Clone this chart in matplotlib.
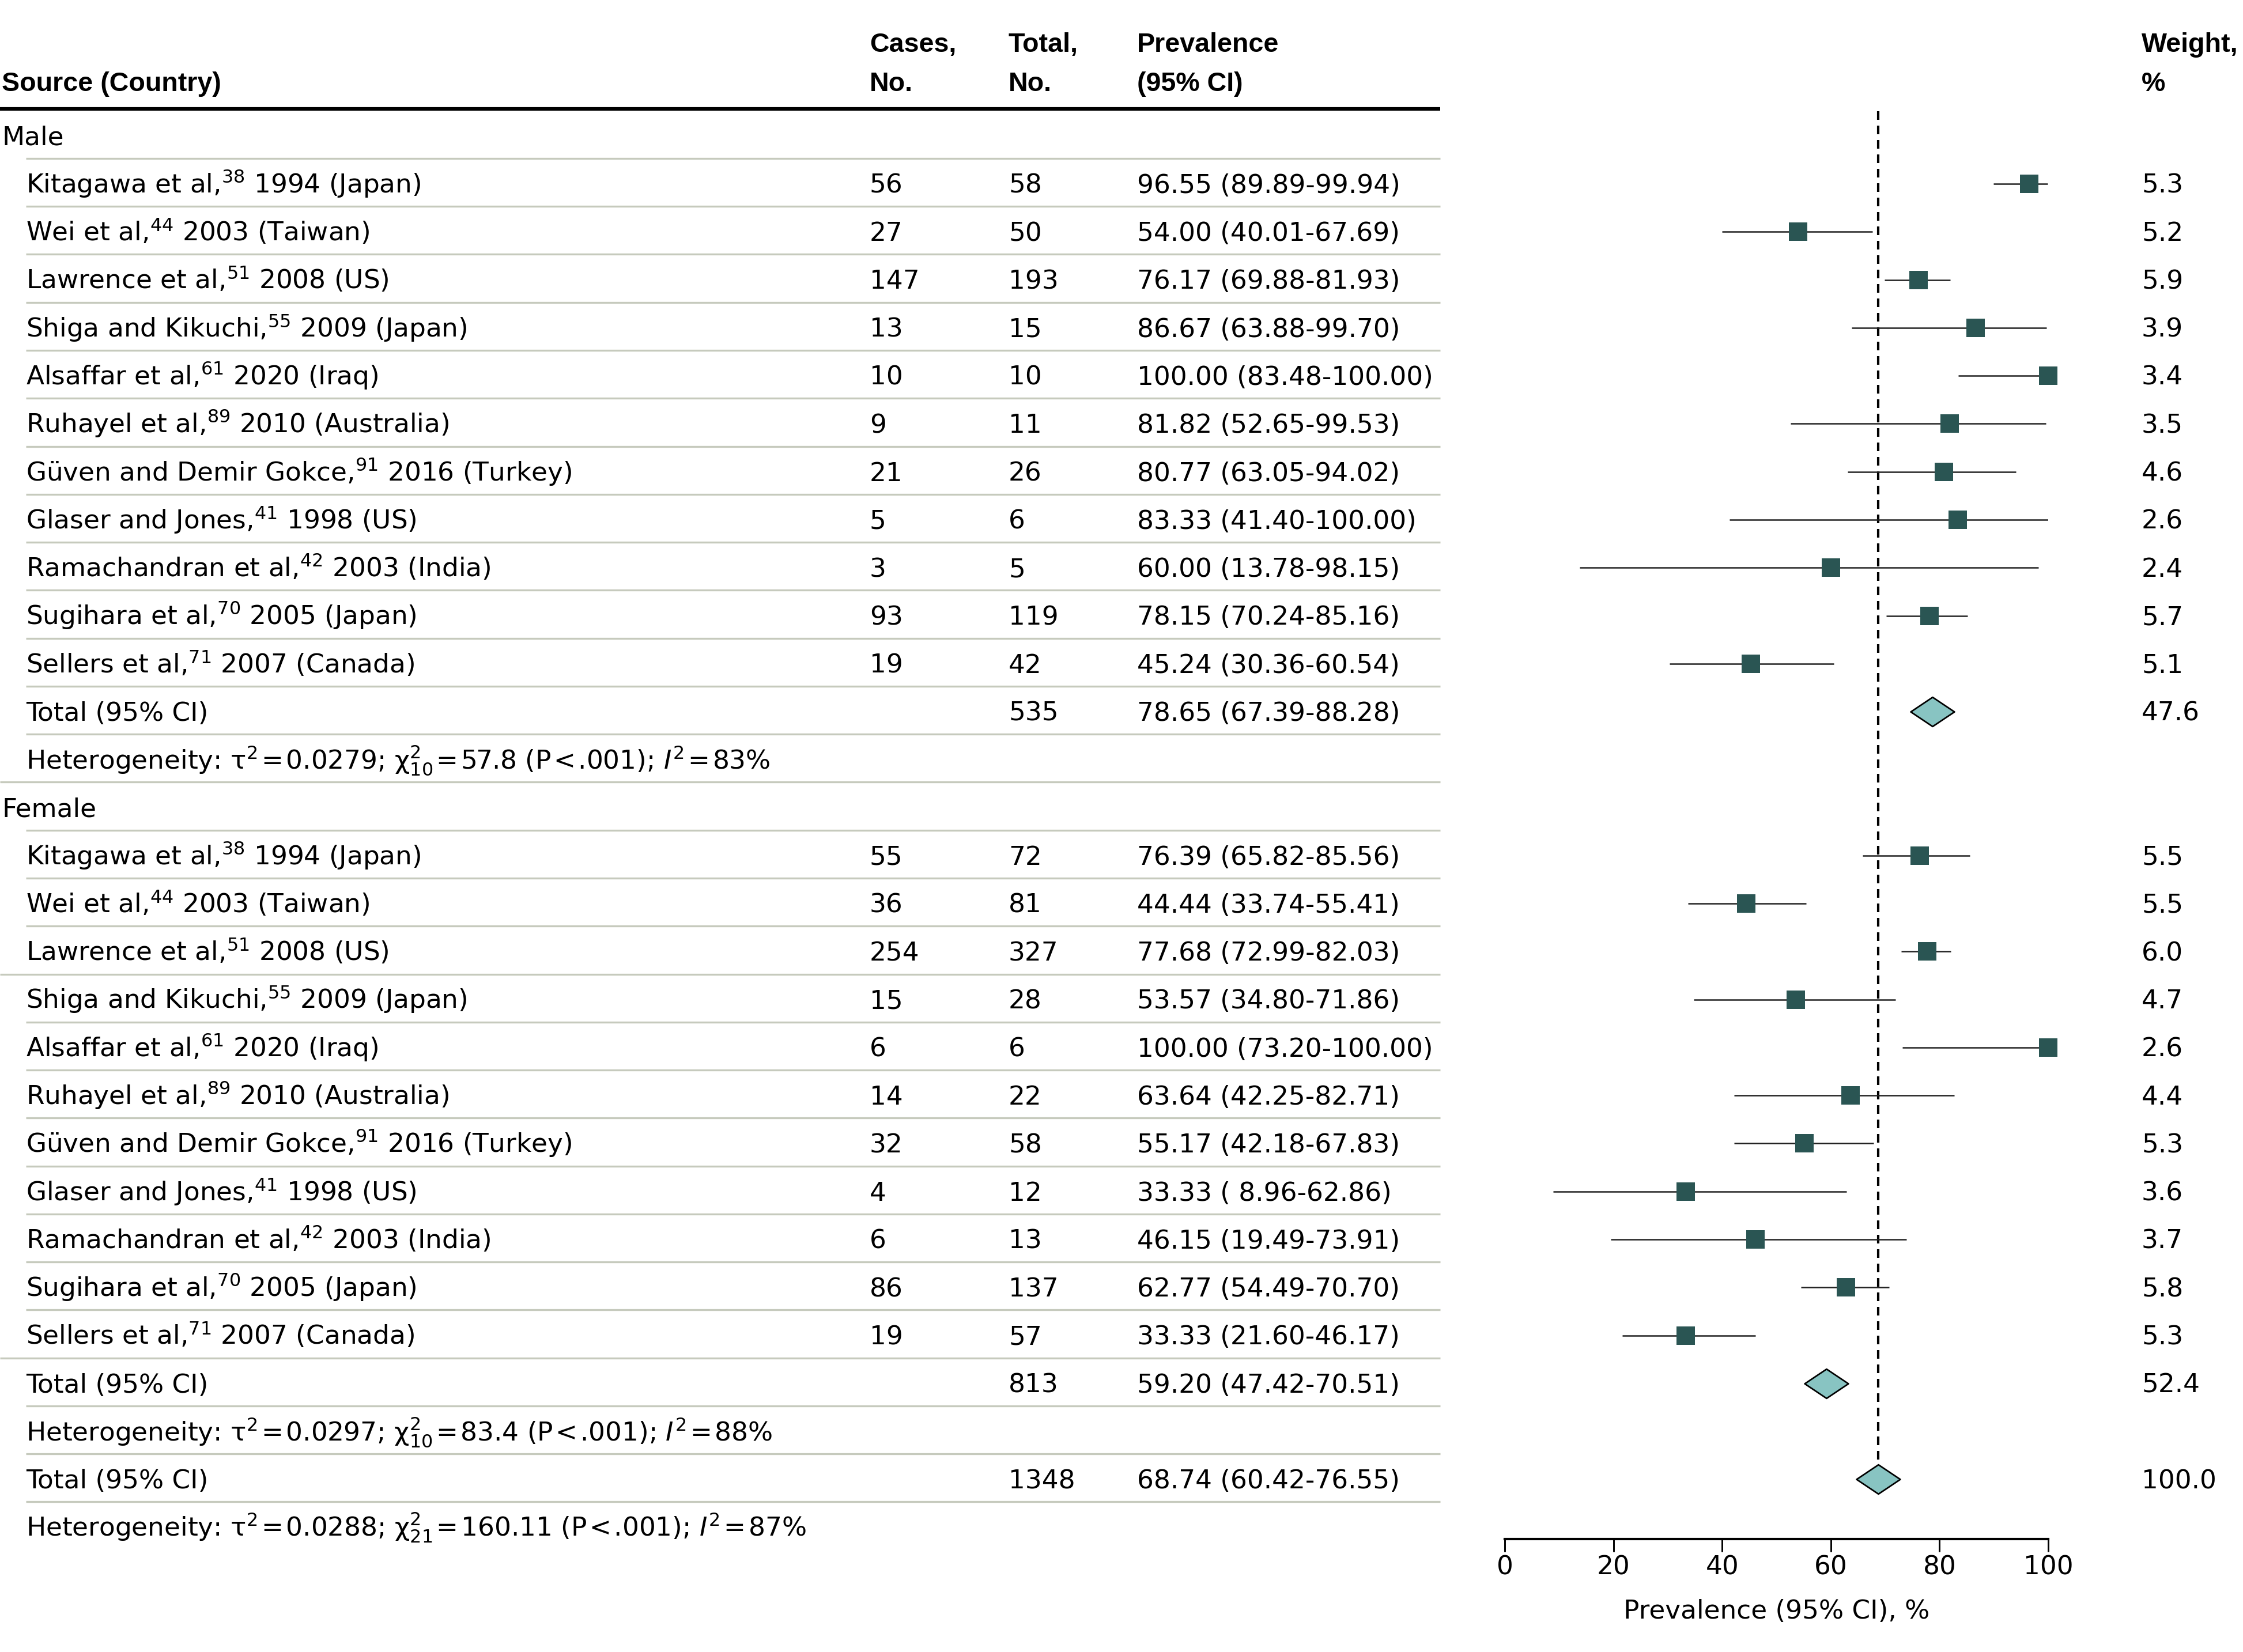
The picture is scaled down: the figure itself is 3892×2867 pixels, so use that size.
import matplotlib
matplotlib.use('Agg')
import matplotlib.pyplot as plt
from matplotlib.path import Path

plt.rcParams['font.family'] = ['DejaVu Sans']
plt.rcParams['mathtext.fontset'] = 'dejavusans'
plt.rcParams['mathtext.default'] = 'regular'

# ---------------- data ----------------
authors = ["Kitagawa et al", "Wei et al", "Lawrence et al", "Shiga and Kikuchi",
           "Alsaffar et al", "Ruhayel et al", "Güven and Demir Gokce",
           "Glaser and Jones", "Ramachandran et al", "Sugihara et al", "Sellers et al"]
refs = [38, 44, 51, 55, 61, 89, 91, 41, 42, 70, 71]
years = [1994, 2003, 2008, 2009, 2020, 2010, 2016, 1998, 2003, 2005, 2007]
countries = ["Japan", "Taiwan", "US", "Japan", "Iraq", "Australia", "Turkey",
             "US", "India", "Japan", "Canada"]

male_cases = [56, 27, 147, 13, 10, 9, 21, 5, 3, 93, 19]
male_total = [58, 50, 193, 15, 10, 11, 26, 6, 5, 119, 42]
male_prev = [96.55, 54.00, 76.17, 86.67, 100.00, 81.82, 80.77, 83.33, 60.00, 78.15, 45.24]
male_lo = [89.89, 40.01, 69.88, 63.88, 83.48, 52.65, 63.05, 41.40, 13.78, 70.24, 30.36]
male_hi = [99.94, 67.69, 81.93, 99.70, 100.00, 99.53, 94.02, 100.00, 98.15, 85.16, 60.54]
male_weight = [5.3, 5.2, 5.9, 3.9, 3.4, 3.5, 4.6, 2.6, 2.4, 5.7, 5.1]

female_cases = [55, 36, 254, 15, 6, 14, 32, 4, 6, 86, 19]
female_total = [72, 81, 327, 28, 6, 22, 58, 12, 13, 137, 57]
female_prev = [76.39, 44.44, 77.68, 53.57, 100.00, 63.64, 55.17, 33.33, 46.15, 62.77, 33.33]
female_lo = [65.82, 33.74, 72.99, 34.80, 73.20, 42.25, 42.18, 8.96, 19.49, 54.49, 21.60]
female_hi = [85.56, 55.41, 82.03, 71.86, 100.00, 82.71, 67.83, 62.86, 73.91, 70.70, 46.17]
female_weight = [5.5, 5.5, 6.0, 4.7, 2.6, 4.4, 5.3, 3.6, 3.7, 5.8, 5.3]

# pooled: total N, estimate, lo, hi, weight
male_pool = [535, 78.65, 67.39, 88.28, 47.6]
female_pool = [813, 59.20, 47.42, 70.51, 52.4]
overall_pool = [1348, 68.74, 60.42, 76.55, 100.0]

# heterogeneity: tau2, chi2, df, I2
male_het = ["0.0279", "57.8", "10", "83"]
female_het = ["0.0297", "83.4", "10", "88"]
overall_het = ["0.0288", "160.11", "21", "87"]

x_ticks = [0, 20, 40, 60, 80, 100]

# ---------------- build rows ----------------
rows = []
def add_group(name, cases, total, prev, lo, hi, wt, pool, het):
    rows.append(dict(kind='group', label=name))
    for i in range(len(authors)):
        rows.append(dict(kind='study',
                         label=f"{authors[i]},$^{{{refs[i]}}}$ {years[i]} ({countries[i]})",
                         cases=str(cases[i]), total=str(total[i]),
                         est=prev[i], lo=lo[i], hi=hi[i], wt=wt[i]))
    rows.append(dict(kind='pool', label="Total (95% CI)", total=str(pool[0]),
                     est=pool[1], lo=pool[2], hi=pool[3], wt=pool[4]))
    rows.append(dict(kind='het', het=het))

add_group("Male", male_cases, male_total, male_prev, male_lo, male_hi, male_weight, male_pool, male_het)
add_group("Female", female_cases, female_total, female_prev, female_lo, female_hi, female_weight, female_pool, female_het)
rows.append(dict(kind='pool', label="Total (95% CI)", total=str(overall_pool[0]),
                 est=overall_pool[1], lo=overall_pool[2], hi=overall_pool[3], wt=overall_pool[4]))
rows.append(dict(kind='het', het=overall_het))

# ---------------- figure ----------------
W, H = 3892, 2867
DPI = 300
fig = plt.figure(figsize=(W / DPI, H / DPI), dpi=DPI)
ax = fig.add_axes([0, 0, 1, 1])
ax.set_xlim(0, 1)
row_px = 83.27
row0_px = 235.8
ax.set_ylim((H - row0_px) / row_px, -row0_px / row_px)
ax.axis('off')

FS = 10.9
HFS = 11.2
BASE = 0.19  # baseline offset (rows) so digits are centred in row
def px(x):
    return x / W

X_SRC, X_IND, X_CASES, X_TOTAL, X_PREV, X_WT = px(3), px(45), px(1509), px(1750), px(1973), px(3716)
X_LINE_END = px(2499)
LINE_COL = '#c6cabd'
TS = '\u200a'  # hair space

# header
hdr = dict(fontsize=HFS, fontweight='bold', va='baseline', ha='left',
           family=['Liberation Sans', 'DejaVu Sans'])
ax.text(X_SRC, -1.13 + BASE, "Source (Country)", **hdr)
ax.text(X_CASES, -1.94 + BASE, "Cases,", **hdr)
ax.text(X_CASES, -1.13 + BASE, "No.", **hdr)
ax.text(X_TOTAL, -1.94 + BASE, "Total,", **hdr)
ax.text(X_TOTAL, -1.13 + BASE, "No.", **hdr)
ax.text(X_PREV, -1.94 + BASE, "Prevalence", **hdr)
ax.text(X_PREV, -1.13 + BASE, "(95% CI)", **hdr)
ax.text(X_WT, -1.94 + BASE, "Weight,", **hdr)
ax.text(X_WT, -1.13 + BASE, "%", **hdr)
ax.hlines(-0.567, 0, X_LINE_END, color='black', lw=1.5)

txt = dict(fontsize=FS, va='baseline', ha='left')
for i, r in enumerate(rows):
    y = i + BASE
    k = r['kind']
    if k == 'group':
        ax.text(X_SRC, y, r['label'], **txt)
    elif k in ('study', 'pool'):
        ax.text(X_IND, y, r['label'], **txt)
        if k == 'study':
            ax.text(X_CASES, y, r['cases'], **txt)
        ax.text(X_TOTAL, y, r['total'], **txt)
        ax.text(X_PREV, y, f"{r['est']:.2f} ({r['lo']:5.2f}-{r['hi']:.2f})", **txt)
        ax.text(X_WT, y, f"{r['wt']:.1f}", **txt)
    elif k == 'het':
        t2, c2, df, i2 = r['het']
        s = (f"Heterogeneity: τ$^{{2}}${TS}={TS}{t2}; χ$^{{2}}_{{{df}}}${TS}={TS}{c2} "
             f"(P{TS}<{TS}.001); $\\mathit{{I}}^{{2}}${TS}={TS}{i2}%")
        ax.text(X_IND, y, s, **txt)

# separator lines
n = len(rows)
for i in range(n - 1):
    nxt = rows[i + 1]['kind']
    if rows[i]['kind'] == 'het' and nxt == 'group':
        start = 0
    elif rows[i]['kind'] == 'study' and nxt == 'pool' and i > 20:
        start = 0
    elif i == 17:
        start = 0
    else:
        start = X_IND
    ax.hlines(i + 0.47, start, X_LINE_END, color=LINE_COL, lw=0.8)

# ---------------- forest axes ----------------
fx0 = 2611 / W
fx1 = 3554 / W
ax2 = fig.add_axes([fx0, 0, fx1 - fx0, 1], sharey=ax)
ax2.set_facecolor('none')
ax2.set_xlim(0, 100)
for s in ['top', 'left', 'right']:
    ax2.spines[s].set_visible(False)
ax2.spines['bottom'].set_position(('data', 29.24))
ax2.spines['bottom'].set_bounds(0, 100)
ax2.spines['bottom'].set_linewidth(1.0)
ax2.yaxis.set_visible(False)
ax2.set_xticks(x_ticks)
ax2.set_xticklabels([str(v) for v in x_ticks])
ax2.tick_params(axis='x', direction='out', length=5.3, width=0.7, pad=1.5, labelsize=FS)
ax2.set_xlabel("Prevalence (95% CI), %", fontsize=FS, labelpad=8)

# reference dashed line at overall estimate
ax2.vlines(overall_pool[1], -0.51, n - 2, colors='black', lw=1.0,
           linestyles=(0, (3.6, 2.4)), zorder=1)

SQ_COL = '#2a5553'
DIA_COL = '#88c4c2'
diamond = Path([(-1, 0), (0, 0.67), (1, 0), (0, -0.67), (-1, 0)],
               [Path.MOVETO, Path.LINETO, Path.LINETO, Path.LINETO, Path.CLOSEPOLY])
for i, r in enumerate(rows):
    if r['kind'] == 'study':
        ax2.hlines(i, r['lo'], r['hi'], colors='#222222', lw=0.6, zorder=2)
        ax2.plot([r['est']], [i], marker='s', ms=7.9, color=SQ_COL, mew=0,
                 zorder=3, clip_on=False)
    elif r['kind'] == 'pool':
        ax2.plot([r['est']], [i], marker=diamond, ms=18.2, mfc=DIA_COL,
                 mec='black', mew=0.65, zorder=3, clip_on=False)

fig.savefig('out.png', dpi=DPI)
